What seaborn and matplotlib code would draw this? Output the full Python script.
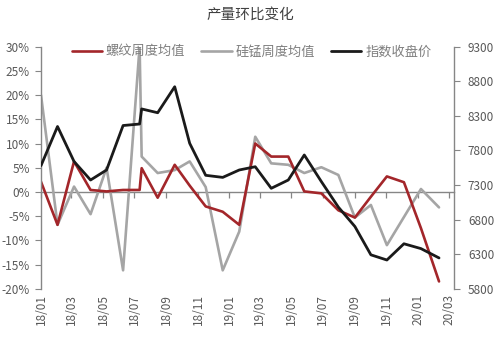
import matplotlib
matplotlib.use("Agg")
import matplotlib.pyplot as plt
from matplotlib.ticker import FuncFormatter
import seaborn as sns
import pandas as pd

# ---- data ----
dates = ["2018-01-01", "2018-02-02", "2018-03-06", "2018-04-07", "2018-05-08", "2018-06-09",
         "2018-07-11", "2018-07-15", "2018-08-15", "2018-09-17", "2018-10-16", "2018-11-16",
         "2018-12-19", "2019-01-20", "2019-02-20", "2019-03-23", "2019-04-25", "2019-05-26",
         "2019-06-28", "2019-07-31", "2019-09-01", "2019-10-02", "2019-11-02", "2019-12-05",
         "2020-01-07", "2020-02-11"]
rebar = [2.1, -6.8, 6.3, 0.4, 0.1, 0.4, 0.4, 4.9, -1.2, 5.6, 1.3, -3.0, -4.1, -6.8, 10.0,
         7.3, 7.3, 0.1, -0.3, -3.8, -5.3, -1.0, 3.2, 2.0, -7.5, -18.5]
simn = [20.0, -6.8, 1.1, -4.6, 5.0, -16.2, 30.0, 7.3, 3.9, 4.5, 6.3, 1.0, -16.2, -8.2, 11.4,
        5.9, 5.6, 3.9, 5.1, 3.5, -5.3, -2.7, -11.0, -5.2, 0.6, -3.2]
index_close = [7580, 8146, 7640, 7372, 7517, 8160, 8182, 8400, 8345, 8721, 7903, 7440, 7410,
               7517, 7564, 7252, 7372, 7734, 7350, 6980, 6700, 6290, 6215, 6450, 6380, 6245]
tick_dates = ["2018-01-01", "2018-03-01", "2018-05-01", "2018-07-01", "2018-09-01", "2018-11-01",
              "2019-01-01", "2019-03-01", "2019-05-01", "2019-07-01", "2019-09-01", "2019-11-01",
              "2020-01-01", "2020-03-01"]
tick_labels = ["18/01", "18/03", "18/05", "18/07", "18/09", "18/11", "19/01", "19/03",
               "19/05", "19/07", "19/09", "19/11", "20/01", "20/03"]
left_ticks = [-20, -15, -10, -5, 0, 5, 10, 15, 20, 25, 30]
right_ticks = [5800, 6300, 6800, 7300, 7800, 8300, 8800, 9300]
names = ["螺纹周度均值", "硅锰周度均值", "指数收盘价"]
title = "产量环比变化"

df = pd.DataFrame({"date": pd.to_datetime(dates), "rebar": rebar, "simn": simn,
                   "idx": index_close})

sns.set_style("white")
plt.rcParams["font.family"] = ["Noto Sans CJK SC", "DejaVu Sans"]

TXT = "#595959"
LEG = "#7F7F7F"
AX = "#868686"
RED = "#A3262A"
GRAY = "#A5A5A5"
BLACK = "#1A1A1A"

fig = plt.figure(figsize=(5.0, 3.37), dpi=100)
ax = fig.add_axes([0.082, 0.1433, 0.826, 0.7181])
ax2 = ax.twinx()

sns.lineplot(data=df, x="date", y="simn", ax=ax, color=GRAY, lw=1.9, label=names[1])
sns.lineplot(data=df, x="date", y="rebar", ax=ax, color=RED, lw=1.9, label=names[0])
sns.lineplot(data=df, x="date", y="idx", ax=ax2, color=BLACK, lw=2.0, label=names[2])

ax.set_ylim(left_ticks[0], left_ticks[-1])
ax.set_yticks(left_ticks)
ax.yaxis.set_major_formatter(FuncFormatter(lambda v, p: f"{v:.0f}%"))
ax2.set_ylim(right_ticks[0], right_ticks[-1])
ax2.set_yticks(right_ticks)

x0 = pd.Timestamp("2018-01-01")
x1 = pd.Timestamp("2020-03-11")
ax.set_xlim(x0, x1)
tpos = pd.to_datetime(tick_dates)
ax.set_xticks(tpos)
ax.set_xticklabels(tick_labels, rotation=90, color=TXT, fontsize=8.5)
ax.tick_params(axis="x", length=0, pad=4)

# zero line axis with tick marks
zero_frac = (0 - left_ticks[0]) / (left_ticks[-1] - left_ticks[0])
sec = ax.secondary_xaxis(zero_frac)
sec.set_xticks(tpos)
sec.set_xticklabels([])
sec.tick_params(axis="x", direction="out", length=4, color=AX, width=0.9)
sec.spines["bottom"].set_color(AX)
sec.spines["bottom"].set_linewidth(1.0)
for s in ["top", "right", "left"]:
    if s in sec.spines:
        sec.spines[s].set_visible(False)

for a in (ax, ax2):
    a.set_xlabel("")
    a.set_ylabel("")
    for s in a.spines.values():
        s.set_visible(False)
    a.grid(False)

ax.spines["left"].set_visible(True)
ax.spines["left"].set_color(AX)
ax.spines["left"].set_linewidth(1.0)
ax2.spines["right"].set_visible(True)
ax2.spines["right"].set_color(AX)
ax2.spines["right"].set_linewidth(1.0)
ax.tick_params(axis="y", direction="out", length=4, color=AX, labelcolor=TXT, labelsize=8.5, pad=4, left=True)
ax2.tick_params(axis="y", direction="out", length=4, color=AX, labelcolor=TXT, labelsize=8.5, pad=6, right=True)

h1, l1 = ax.get_legend_handles_labels()
h2, l2 = ax2.get_legend_handles_labels()
hmap = dict(zip(l1 + l2, h1 + h2))
if ax.get_legend():
    ax.get_legend().remove()
if ax2.get_legend():
    ax2.get_legend().remove()
fig.legend([hmap[n] for n in names], names, loc="center", bbox_to_anchor=(0.503, 0.846),
           ncol=3, frameon=False, fontsize=9.5, labelcolor=LEG, handlelength=2.3,
           columnspacing=1.2, handletextpad=0.3)

fig.text(0.5, 0.955, title, ha="center", va="center", fontsize=10.5, color="#404040")

fig.savefig("out.png", dpi=100)
